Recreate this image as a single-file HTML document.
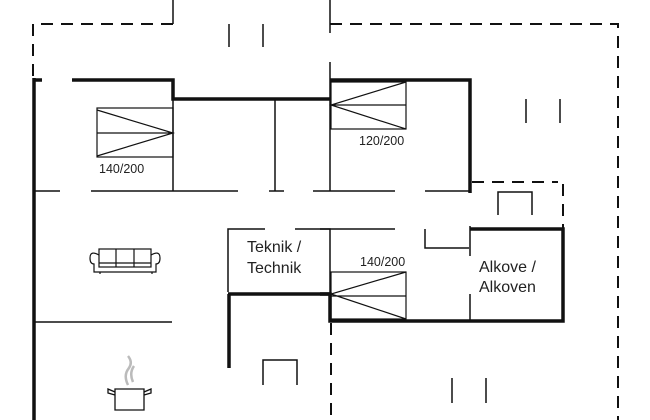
<!DOCTYPE html>
<html><head><style>body{margin:0;background:#fff}svg{display:block}text{font-family:"Liberation Sans",sans-serif;fill:#222}</style></head><body>
<svg width="650" height="420" viewBox="0 0 650 420" xmlns="http://www.w3.org/2000/svg">
<g stroke="#111" fill="none">
<g stroke-width="2" stroke-dasharray="12,8">
<path d="M33,76 V24 H173"/>
<path d="M330,24 H618 V420"/>
<path d="M472,182 H558"/>
<path d="M563,184 V230"/>
<path d="M331,323 V420"/>
</g>
<g stroke-width="1.5">
<path d="M173,0 V24"/>
<path d="M330,0 V33 M330,62 V80"/>
<path d="M229,24 V47 M263,24 V47 M526,99 V123 M560,99 V123 M452,378 V403 M486,378 V403"/>
<path d="M173,99 V191 M275,99 V191 M330,80 V191"/>
<path d="M35,191 H60 M91,191 H238 M269,191 H284 M313,191 H395 M425,191 H470"/>
<path d="M228,292 V229 H265 M295,229 H330 V294"/>
<path d="M35,322 H172"/>
<path d="M320,229 H395 M425,229 V248 H469 M470,226 V256 M470,294 V321"/>
<path d="M498,215 V192 H532 V215"/>
<path d="M263,385 V360 H297 V385"/>
</g>
<g stroke-width="3.5">
<path d="M34,78 V420"/>
<path d="M33,80 H42 M72,80 H173 V99 H330"/>
<path d="M330,80 H470 V193"/>
<path d="M228,294 H330 M229,294 V368"/>
<path d="M470,229 H563 V321 H330 V294 H320"/>
</g>
<g stroke-width="1.2">
<rect x="97" y="108" width="76" height="49"/><path d="M97,133 H173 M97,110 L173,133 L97,156"/>
<rect x="331" y="82" width="75" height="47"/><path d="M331,105 H406 M406,82 L331,105 L406,129"/>
<rect x="331" y="272" width="75" height="47"/><path d="M331,296 H406 M406,272 L331,294 L406,319"/>
</g>
<g stroke-width="1.2">
<rect x="99" y="249" width="52" height="18"/><path d="M116,249 V267 M134,249 V267 M99,263 H151"/>
<path d="M99,255 Q90,250 90,258 Q90,264 94,264 V272 H156 V264 Q160,264 160,258 Q160,250 151,255"/>
<path d="M100,272 V274 M152,272 V274"/>
</g>
<g stroke-width="1.3">
<path d="M115,389 V410 H144 V389 Z M115,392 L108,389 L108,393 L115,395 M144,392 L151,389 L151,393 L144,395"/>
<path d="M128,385 Q123,375 129,368 Q133,362 128,356 M133,382 Q129,373 134,366" stroke="#bbb" stroke-width="2.5"/>
</g>
</g>
<g font-size="12.5">
<text x="99" y="173">140/200</text>
<text x="359" y="145">120/200</text>
<text x="360" y="266">140/200</text>
</g>
<g font-size="16">
<text x="247" y="252">Teknik /</text>
<text x="247" y="273">Technik</text>
<text x="479" y="272">Alkove /</text>
<text x="479" y="292">Alkoven</text>
</g>
</svg>
</body></html>
